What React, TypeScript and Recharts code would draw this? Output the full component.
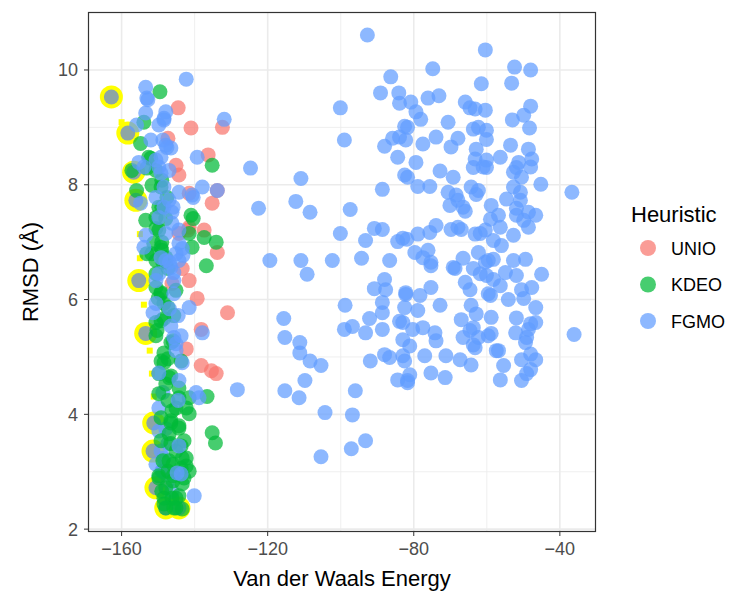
import { ScatterChart, Scatter, XAxis, YAxis, CartesianGrid } from 'recharts'

// axis setup
const xTicks = [-160, -120, -80, -40]
const yTicks = [2, 4, 6, 8, 10]
const xMinor = [-140, -100, -60]
const yMinor = [3, 5, 7, 9]

// UNIO (red)
const unio: number[][] = [
  [-144.5, 9.34], [-141.0, 8.99], [-132.4, 9.0], [-136.3, 8.52], [-144.3, 8.17], [-133.8, 7.9], [-135.2, 7.68],
  [-141.5, 7.85], [-141.5, 7.26], [-137.4, 7.21], [-144.3, 7.15], [-133.8, 6.82], [-143.4, 6.54], [-141.5, 6.33],
  [-146.2, 6.28], [-139.3, 6.02], [-131.0, 5.77], [-138.2, 5.48], [-142.3, 5.14], [-138.2, 4.85], [-135.4, 4.76],
  [-134.1, 4.71], [-147.3, 8.81], [-145.1, 8.34], [-141.8, 7.21],
]

// KDEO (green)
const kdeo: number[][] = [
  [-149.5, 9.62], [-153.9, 9.09], [-154.8, 8.72], [-152.0, 8.46], [-153.1, 8.29], [-135.2, 8.34], [-157.2, 8.25],
  [-155.9, 7.9], [-151.7, 7.99], [-149.2, 7.96], [-149.8, 7.61], [-141.0, 7.47], [-137.4, 7.08], [-134.1, 7.0],
  [-141.5, 7.15], [-140.7, 6.91], [-136.8, 6.59], [-153.1, 6.8], [-150.6, 6.68], [-149.0, 7.0], [-150.6, 7.24],
  [-150.6, 6.21], [-145.1, 6.16], [-148.4, 5.93], [-145.7, 5.72], [-150.3, 5.46], [-148.4, 5.07], [-148.4, 4.9],
  [-147.9, 4.53], [-144.3, 4.29], [-141.5, 4.29], [-136.6, 4.31], [-141.5, 4.01], [-146.2, 4.06], [-147.0, 3.66],
  [-142.9, 3.54], [-135.2, 3.68], [-134.3, 3.5], [-143.4, 3.24], [-141.5, 3.01], [-147.0, 3.19], [-149.8, 2.93],
  [-147.9, 2.72], [-143.4, 2.79], [-148.4, 2.44], [-145.1, 2.37], [-143.4, 2.35], [-149.0, 2.66], [-146.2, 2.54],
  [-153.4, 7.38], [-140.4, 7.41], [-148.7, 6.65], [-149.2, 6.12], [-150.6, 5.37], [-147.3, 4.97], [-145.1, 4.11],
  [-147.3, 3.01], [-146.5, 3.89], [-144.3, 3.8], [-149.2, 3.54], [-145.1, 3.36], [-142.3, 3.1], [-145.9, 2.93],
  [-144.3, 2.58], [-145.9, 5.28], [-143.7, 4.93], [-146.5, 4.67], [-149.2, 5.63],
  [-152.6, 8.48], [-150.6, 8.25], [-149.0, 8.08], [-147.6, 7.78], [-149.0, 7.61], [-150.6, 7.43], [-147.9, 7.41],
  [-149.8, 7.21], [-149.0, 6.86], [-151.7, 6.8], [-147.9, 6.73], [-150.6, 6.45], [-149.2, 6.1], [-151.2, 6.98],
  [-149.2, 6.91], [-147.3, 6.54], [-150.0, 6.02], [-147.3, 5.86], [-148.4, 5.67], [-150.6, 5.6], [-146.5, 5.25],
  [-149.2, 4.93], [-149.8, 4.71], [-147.0, 4.64], [-144.3, 4.46], [-149.8, 4.36], [-147.3, 4.24], [-142.3, 4.11],
  [-149.2, 3.94], [-146.5, 3.85], [-144.3, 3.76], [-146.5, 3.49], [-143.7, 3.45], [-142.3, 3.24], [-148.7, 3.19],
  [-145.9, 3.13], [-143.7, 3.06], [-149.8, 2.89], [-145.9, 2.84], [-142.9, 2.89], [-148.4, 2.54], [-145.1, 2.54],
  [-147.9, 2.37], [-145.7, 2.37],
]

// FGMO (blue), left group, lower part (drawn under the green points)
const fgmoLeftLow: number[][] = [
  [-149.8, 4.11], [-147.9, 3.75], [-149.2, 3.36], [-149.0, 3.01], [-146.2, 2.66], [-149.8, 3.71],
  [-148.7, 4.38], [-147.3, 3.49], [-148.4, 3.24], [-150.6, 3.13], [-148.7, 3.01], [-147.3, 2.84],
]

// FGMO (blue), left group, upper part and edge points
const fgmoLeft: number[][] = [
  [-142.3, 9.84], [-153.4, 9.7], [-153.1, 9.51], [-131.9, 9.14], [-147.9, 9.27], [-153.4, 9.25], [-155.9, 9.04],
  [-149.8, 9.04], [-147.9, 8.69], [-152.0, 8.78], [-139.3, 8.48], [-153.9, 8.31], [-149.2, 8.2], [-144.3, 7.87],
  [-137.9, 7.96], [-140.7, 7.82], [-133.8, 7.9], [-146.2, 7.52], [-148.4, 7.61], [-153.9, 6.91], [-143.4, 6.89],
  [-149.8, 7.43], [-144.3, 6.68], [-149.8, 6.45], [-146.5, 6.56], [-141.5, 5.86], [-137.9, 5.42], [-145.7, 5.34],
  [-143.4, 4.9], [-149.8, 4.72], [-144.3, 4.59], [-139.6, 4.38], [-128.3, 4.43], [-144.3, 3.45], [-144.8, 2.98],
  [-140.1, 2.58], [-150.6, 5.93], [-138.8, 4.29], [-144.5, 4.24], [-143.7, 2.96],
  [-145.7, 6.1], [-124.7, 8.29], [-146.5, 8.64], [-155.3, 8.39], [-154.8, 7.68], [-146.9, 5.84], [-151.4, 5.77],
  [-145.1, 5.23], [-149.2, 6.73], [-146.9, 6.65],
  [-152.8, 9.48], [-148.4, 9.13], [-148.7, 8.78], [-149.8, 8.31], [-145.9, 7.61], [-140.4, 7.78], [-148.4, 9.16],
  [-147.6, 8.65], [-149.2, 8.48], [-150.6, 8.43], [-147.0, 8.25], [-148.4, 7.96], [-150.6, 7.78], [-147.0, 7.73],
  [-146.2, 7.33], [-147.9, 7.15], [-144.3, 6.98], [-145.1, 6.8], [-147.9, 6.68], [-145.7, 6.33], [-153.4, 7.12],
  [-144.3, 7.21], [-143.2, 6.77], [-145.7, 6.47], [-150.6, 6.33], [-144.5, 5.72], [-143.7, 5.37], [-146.5, 5.54],
  [-145.1, 5.11],
]

// FGMO (blue), middle group
const fgmoMid: number[][] = [
  [-92.7, 10.61], [-86.3, 9.88], [-89.1, 9.6], [-84.1, 9.6], [-83.9, 9.42], [-100.1, 9.34], [-82.5, 9.02],
  [-85.8, 8.81], [-88.0, 8.67], [-82.2, 8.78], [-99.0, 8.78], [-84.4, 8.48], [-82.5, 8.17], [-110.9, 8.11],
  [-88.6, 7.92], [-122.5, 7.59], [-112.3, 7.71], [-108.4, 7.52], [-97.4, 7.57], [-100.1, 7.15], [-93.2, 7.03],
  [-90.8, 7.24], [-88.6, 7.22], [-84.4, 7.01], [-83.0, 7.07], [-119.4, 6.68], [-110.9, 6.68], [-109.2, 6.44],
  [-102.3, 6.68], [-94.3, 6.72], [-86.6, 6.68], [-88.0, 6.35], [-90.8, 6.19], [-87.7, 6.17], [-82.2, 6.09],
  [-88.6, 5.95], [-98.8, 5.9], [-88.6, 5.77], [-82.5, 5.86], [-115.6, 5.67], [-92.1, 5.67], [-99.0, 5.48],
  [-96.8, 5.53], [-93.2, 5.42], [-88.6, 5.48], [-83.9, 5.62], [-115.3, 5.34], [-111.2, 5.25], [-111.2, 5.07],
  [-108.4, 4.93], [-105.4, 4.85], [-83.0, 5.3], [-91.9, 4.93], [-88.0, 5.04], [-86.6, 4.99], [-82.5, 4.93],
  [-84.4, 4.6], [-81.7, 4.59], [-109.8, 4.59], [-115.3, 4.41], [-111.4, 4.29], [-96.0, 4.41], [-104.3, 4.03],
  [-96.8, 3.99], [-93.2, 3.54], [-97.1, 3.4], [-105.4, 3.26],
]

// FGMO (blue), right group
const fgmoRight: number[][] = [
  [-60.4, 10.35], [-74.8, 10.02], [-52.4, 10.05], [-48.0, 10.0], [-61.5, 9.76], [-53.2, 9.77], [-76.1, 9.51],
  [-73.1, 9.55], [-65.9, 9.44], [-63.2, 9.32], [-60.4, 9.3], [-48.0, 9.37], [-49.9, 9.21], [-53.0, 9.13],
  [-48.3, 8.99], [-79.4, 9.27], [-78.1, 9.14], [-81.7, 9.0], [-70.6, 9.09], [-73.9, 8.83], [-67.9, 8.81],
  [-77.5, 8.71], [-69.8, 8.66], [-63.7, 8.97], [-60.1, 8.95], [-60.1, 8.79], [-62.9, 8.62], [-63.2, 8.45],
  [-60.1, 8.43], [-56.3, 8.48], [-53.5, 8.69], [-48.6, 8.62], [-47.7, 8.45], [-48.0, 8.31], [-51.3, 8.39],
  [-52.7, 8.22], [-45.2, 8.01], [-36.7, 7.87], [-79.4, 8.39], [-81.7, 8.13], [-72.8, 8.24], [-69.2, 8.13],
  [-78.9, 7.97], [-75.6, 7.97], [-70.6, 7.87], [-64.3, 7.96], [-62.9, 7.83], [-68.4, 7.82], [-70.1, 7.64],
  [-65.9, 7.54], [-58.8, 7.64], [-54.6, 7.75], [-50.8, 7.87], [-48.6, 7.52], [-46.6, 7.47], [-51.9, 7.47],
  [-59.0, 7.4], [-56.3, 7.26], [-73.9, 7.29], [-69.8, 7.22], [-67.0, 7.22], [-78.9, 7.14], [-75.6, 7.17],
  [-81.9, 7.05], [-63.2, 7.14], [-60.4, 7.21], [-52.7, 7.12], [-79.7, 6.82], [-76.1, 6.86], [-75.3, 6.59],
  [-68.7, 6.54], [-66.5, 6.72], [-62.3, 6.82], [-58.2, 6.7], [-56.0, 6.94], [-52.7, 6.68], [-49.4, 6.7],
  [-45.0, 6.44], [-58.2, 6.35], [-54.9, 6.47], [-60.1, 6.42], [-65.9, 6.3], [-64.6, 6.17], [-59.0, 6.07],
  [-56.3, 6.24], [-51.9, 6.42], [-47.7, 6.21], [-50.5, 6.17], [-46.6, 5.86], [-54.1, 6.0], [-82.2, 6.12],
  [-78.3, 6.07], [-75.3, 6.21], [-72.8, 5.9], [-78.9, 5.81], [-67.0, 5.65], [-64.6, 5.46], [-58.8, 5.69],
  [-59.6, 5.37], [-52.1, 5.42], [-48.6, 5.48], [-46.6, 5.6], [-49.4, 5.25], [-66.5, 5.34], [-80.3, 5.48],
  [-77.5, 5.51], [-74.2, 5.42], [-73.9, 5.28], [-63.7, 5.21], [-57.4, 5.11], [-55.4, 4.85], [-50.5, 4.95],
  [-46.6, 4.95], [-48.0, 4.78], [-56.3, 4.6], [-50.5, 4.59], [-64.3, 4.86], [-67.3, 4.95], [-71.2, 5.02],
  [-77.0, 5.02], [-75.3, 4.72], [-71.4, 4.64], [-81.1, 4.69], [-81.7, 4.55], [-36.1, 5.39],
  [-63.7, 8.3], [-60.1, 8.3], [-51.9, 8.3], [-50.5, 8.13], [-52.7, 7.96], [-50.8, 7.73], [-62.3, 7.9],
  [-51.9, 7.59], [-56.8, 7.47], [-49.9, 7.38], [-48.6, 7.26], [-58.2, 7.03], [-59.6, 6.68], [-61.8, 6.45],
  [-59.6, 6.1], [-49.9, 6.02], [-62.9, 5.75], [-51.9, 5.68], [-48.0, 5.58], [-49.1, 5.34], [-58.8, 5.41],
  [-62.3, 5.34], [-56.8, 5.11], [-48.0, 5.05], [-49.1, 4.71], [-67.9, 7.26], [-61.8, 7.15], [-77.5, 6.73],
  [-75.3, 6.65], [-69.2, 6.56], [-63.7, 6.54], [-60.4, 6.65], [-64.3, 5.9], [-63.7, 5.51], [-83.0, 5.6],
  [-81.1, 5.19], [-63.2, 5.16], [-83.0, 5.02], [-80.8, 9.44], [-83.9, 8.83], [-64.6, 9.34], [-62.3, 9.0],
  [-61.0, 8.31], [-67.9, 7.73], [-66.5, 7.61],
]

// highlighted runs (yellow ring) and the small yellow marks
const highlighted: number[][] = [
  [-162.8, 9.53], [-158.3, 8.9], [-156.7, 8.22], [-156.1, 7.73], [-155.3, 6.33], [-153.4, 5.41],
  [-151.2, 3.85], [-151.4, 3.36], [-150.6, 2.72], [-147.9, 2.37], [-144.3, 2.37],
]
const marks: number[][] = [
  [-160.0, 9.09], [-155.0, 7.14], [-155.0, 6.72], [-153.9, 5.91], [-152.3, 5.11], [-151.7, 4.71], [-151.2, 4.31],
]

const rows = (pts: number[][]) => pts.map(([x, y]) => ({ x, y }))

const FONT = '"Liberation Sans", Arial, Helvetica, sans-serif'
const RED = '#F8766D'
const GREEN = '#00BA38'
const BLUE = '#619CFF'

const dot = (color: string) => (props: any) => (
  <circle cx={props.cx} cy={props.cy} r={7.5} fill={color} fillOpacity={0.72} />
)

const ring = (props: any) => (
  <g>
    <circle cx={props.cx} cy={props.cy} r={11.5} fill="#FFFF00" />
    <circle cx={props.cx} cy={props.cy} r={7.5} fill="#8EA6A4" />
  </g>
)

const square = (props: any) => (
  <rect x={props.cx - 3} y={props.cy - 3} width={6} height={6} fill="#FFFF00" />
)

const minus = (v: number) => String(v).replace('-', '\u2212')

const legendItems = [
  { name: 'UNIO', color: RED },
  { name: 'KDEO', color: GREEN },
  { name: 'FGMO', color: BLUE },
]

export default function App() {
  return (
    <div style={{ position: 'absolute', left: 0, top: 0, width: 750, height: 600, background: '#fff' }}>
      <ScatterChart width={750} height={600} margin={{ top: 12, right: 154, bottom: 0, left: 0 }}>
        <CartesianGrid stroke="#EBEBEB" strokeWidth={0.8} horizontalValues={yMinor} verticalValues={xMinor} />
        <CartesianGrid stroke="#EBEBEB" strokeWidth={1.6} horizontalValues={yTicks} verticalValues={xTicks} />
        <XAxis
          type="number"
          dataKey="x"
          domain={[-169.2, -30.1]}
          ticks={xTicks}
          allowDataOverflow
          height={68}
          axisLine={false}
          tickSize={4}
          tickMargin={6}
          tickLine={{ stroke: '#333333' }}
          tickFormatter={minus}
          tick={{ fill: '#4D4D4D', fontSize: 18, fontFamily: FONT }}
        />
        <YAxis
          type="number"
          dataKey="y"
          domain={[1.95, 11.01]}
          ticks={yTicks}
          allowDataOverflow
          width={88}
          axisLine={false}
          tickSize={4}
          tickMargin={6}
          tickLine={{ stroke: '#333333' }}
          tick={{ fill: '#4D4D4D', fontSize: 18, fontFamily: FONT }}
        />
        <Scatter name="highlight" data={rows(highlighted)} shape={ring} isAnimationActive={false} />
        <Scatter name="mark" data={rows(marks)} shape={square} isAnimationActive={false} />
        <Scatter name="UNIO" data={rows(unio)} shape={dot(RED)} isAnimationActive={false} />
        <Scatter name="FGMO low" data={rows(fgmoLeftLow)} shape={dot(BLUE)} isAnimationActive={false} />
        <Scatter name="KDEO" data={rows(kdeo)} shape={dot(GREEN)} isAnimationActive={false} />
        <Scatter name="FGMO" data={rows([...fgmoLeft, ...fgmoMid, ...fgmoRight])} shape={dot(BLUE)} isAnimationActive={false} />
      </ScatterChart>
      <svg width={750} height={600} style={{ position: 'absolute', left: 0, top: 0, pointerEvents: 'none' }}>
        <rect x={88.5} y={12.5} width={507} height={519} fill="none" stroke="#333333" strokeWidth={1.2} />
        <text x={342} y={586} textAnchor="middle" fontSize={22} fontFamily={FONT} fill="#000">
          Van der Waals Energy
        </text>
        <text x={38} y={272} textAnchor="middle" fontSize={22} fontFamily={FONT} fill="#000" transform="rotate(-90 38 272)">
          RMSD (Å)
        </text>
        <text x={631} y={222} fontSize={22} fontFamily={FONT} fill="#000">Heuristic</text>
        {legendItems.map((it, i) => (
          <g key={it.name}>
            <circle cx={648} cy={248 + i * 36.5} r={8} fill={it.color} fillOpacity={0.72} />
            <text x={671} y={248 + i * 36.5 + 6.5} fontSize={18} fontFamily={FONT} fill="#000">{it.name}</text>
          </g>
        ))}
      </svg>
    </div>
  )
}
